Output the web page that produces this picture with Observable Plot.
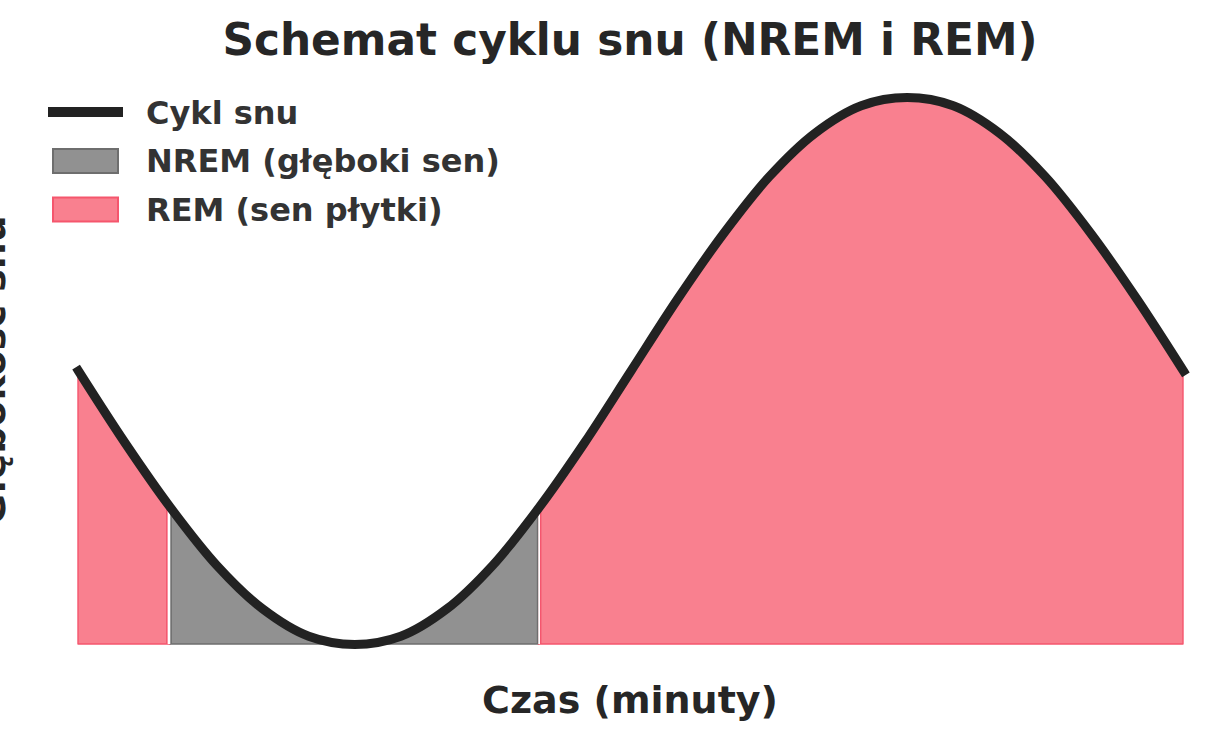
<!DOCTYPE html>
<html>
<head>
<meta charset="utf-8">
<script src="https://cdn.jsdelivr.net/npm/d3@7"></script>
<script src="https://cdn.jsdelivr.net/npm/@observablehq/plot@0.6"></script>
<style>
  html, body { margin: 0; padding: 0; background: #fff; }
  #chart { width: 1210px; height: 740px; }
  svg text { font-family: "DejaVu Sans", sans-serif; }
</style>
</head>
<body>
<div id="chart"></div>
<script>
// ---- Data ----
const titleText = "Schemat cyklu snu (NREM i REM)";
const xLabel = "Czas (minuty)";
const yLabel = "Głębokość snu";
const legendLabels = ["Cykl snu", "NREM (głęboki sen)", "REM (sen płytki)"];

// time in minutes (axis ticks hidden in the original)
const time = [0, 5, 10, 15, 20, 25, 30, 35, 40, 45, 50, 55, 60,
              65, 70, 75, 80, 85, 90, 95, 100, 105, 110, 115, 120];
// relative sleep depth (curve height)
const depth = [0.00, -0.26, -0.50, -0.71, -0.87, -0.97, -1.00, -0.97, -0.87, -0.71, -0.50, -0.26, 0.00,
               0.26, 0.50, 0.71, 0.87, 0.97, 1.00, 0.97, 0.87, 0.71, 0.50, 0.26, 0.00];

// stage segments
const stageName  = ["REM", "NREM", "REM"];
const stageStart = [0, 10, 50];
const stageEnd   = [10, 50, 120];

const baseline = -1;
const colors = {
  line: "#222222",
  REM: {fill: "#f9808f", stroke: "#f5566d"},
  NREM: {fill: "#919191", stroke: "#6e6e6e"}
};

// ---- Build tables ----
const curve = time.map((t, i) => ({t, v: depth[i], b: baseline}));
const segments = stageName.map((s, i) => ({
  stage: s,
  rows: curve.filter(d => d.t >= stageStart[i] && d.t <= stageEnd[i])
}));
const boundaries = stageStart.slice(1).map(t => curve.find(d => d.t === t));

const areaMarks = segments.map(seg =>
  Plot.areaY(seg.rows, {
    x: "t", y1: "b", y2: "v",
    fill: colors[seg.stage].fill,
    stroke: colors[seg.stage].stroke,
    strokeWidth: 1.4,
    curve: "catmull-rom"
  })
);

const plot = Plot.plot({
  width: 1210,
  height: 740,
  marginLeft: 78,
  marginRight: 27,
  marginTop: 97,
  marginBottom: 96,
  x: {domain: [0, 120], axis: null},
  y: {domain: [-1, 1], axis: null},
  style: {background: "white", overflow: "visible"},
  marks: [
    ...areaMarks,
    // small white gaps between consecutive stage fills
    Plot.ruleX(boundaries.slice(0, 1), {x: "t", y1: "b", y2: "v", stroke: "white", strokeWidth: 3.2, dx: -1.6}),
    Plot.ruleX(boundaries.slice(0, 1), {x: "t", y1: "b", y2: "v", stroke: colors.REM.stroke, strokeWidth: 1.4, dx: -3.8}),
    Plot.ruleX(boundaries.slice(0, 1), {x: "t", y1: "b", y2: "v", stroke: colors.NREM.stroke, strokeWidth: 1.4, dx: 0.6}),
    Plot.ruleX(boundaries.slice(1, 2), {x: "t", y1: "b", y2: "v", stroke: "white", strokeWidth: 2, dx: 0.2}),
    Plot.ruleX(boundaries.slice(1, 2), {x: "t", y1: "b", y2: "v", stroke: colors.NREM.stroke, strokeWidth: 1.4, dx: -1.4}),
    Plot.ruleX(boundaries.slice(1, 2), {x: "t", y1: "b", y2: "v", stroke: colors.REM.stroke, strokeWidth: 1.4, dx: 1.8}),
    Plot.line(curve, {
      x: "t", y: "v",
      stroke: colors.line,
      strokeWidth: 9,
      strokeLinecap: "square",
      strokeLinejoin: "round",
      curve: "catmull-rom"
    })
  ]
});

const svg = d3.select(plot);
svg.attr("font-family", "DejaVu Sans, sans-serif");

// Title
svg.append("text")
  .attr("x", 630).attr("y", 55)
  .attr("text-anchor", "middle")
  .attr("font-size", 43.8).attr("font-weight", "bold")
  .attr("fill", "#262626")
  .text(titleText);

// x label
svg.append("text")
  .attr("x", 630).attr("y", 713)
  .attr("text-anchor", "middle")
  .attr("font-size", 38).attr("font-weight", "bold")
  .attr("fill", "#262626")
  .text(xLabel);

// y label (partially outside the left edge, as in the original)
svg.append("text")
  .attr("transform", "translate(5,370) rotate(-90)")
  .attr("text-anchor", "middle")
  .attr("font-size", 38).attr("font-weight", "bold")
  .attr("fill", "#262626")
  .text(yLabel);

// Legend
const lg = svg.append("g");
lg.append("line")
  .attr("x1", 48).attr("x2", 123).attr("y1", 112).attr("y2", 112)
  .attr("stroke", colors.line).attr("stroke-width", 10);
lg.append("rect")
  .attr("x", 53).attr("y", 149).attr("width", 65).attr("height", 24)
  .attr("fill", colors.NREM.fill).attr("stroke", colors.NREM.stroke).attr("stroke-width", 2);
lg.append("rect")
  .attr("x", 53).attr("y", 197.5).attr("width", 65).attr("height", 24)
  .attr("fill", colors.REM.fill).attr("stroke", colors.REM.stroke).attr("stroke-width", 2);
const baselines = [124, 172, 221];
legendLabels.forEach((label, i) => {
  lg.append("text")
    .attr("x", 146).attr("y", baselines[i])
    .attr("text-anchor", "start")
    .attr("font-size", 32).attr("font-weight", "bold")
    .attr("fill", "#333333")
    .text(label);
});

document.getElementById("chart").appendChild(plot);
</script>
</body>
</html>
